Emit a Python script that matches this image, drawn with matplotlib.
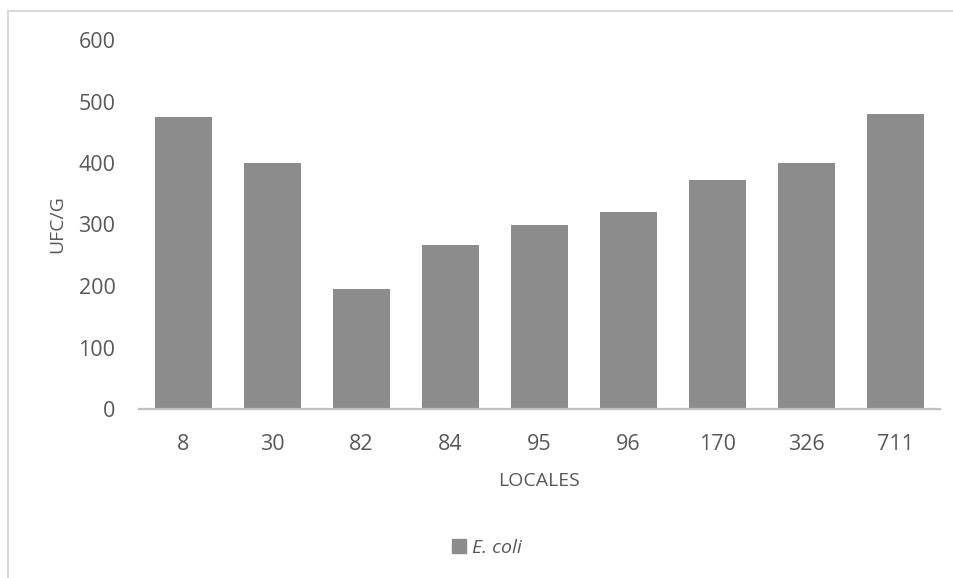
import matplotlib
matplotlib.use("Agg")
import matplotlib.pyplot as plt
from matplotlib.lines import Line2D
from matplotlib.patches import Patch

categories = ["8", "30", "82", "84", "95", "96", "170", "326", "711"]
values = [475, 400, 195, 267, 300, 320, 372, 400, 480]
series_name = "E. coli"
y_ticks = [0, 100, 200, 300, 400, 500, 600]

plt.rcParams['font.family'] = ['Open Sans', 'DejaVu Sans']
text_color = "#595959"
bar_color = "#8c8c8c"

W, H = 954, 578
fig = plt.figure(figsize=(W / 100, H / 100), dpi=100)
ax = fig.add_axes([139 / W, 1 - 409 / H, (940 - 139) / W, (409 - 40) / H])

x = list(range(len(categories)))
ax.bar(x, values, width=0.64, color=bar_color, zorder=2)
ax.set_xlim(-0.5, len(categories) - 0.5)
ax.set_ylim(0, 600)
ax.set_yticks(y_ticks)
ax.set_xticks(x)
ax.set_xticklabels(categories)

for s in ["top", "right", "left"]:
    ax.spines[s].set_visible(False)
ax.spines["bottom"].set_color("#bfbfbf")
ax.spines["bottom"].set_linewidth(1.6)
ax.tick_params(axis="both", length=0, labelsize=15.5, colors=text_color)
ax.tick_params(axis="y", pad=17)
ax.tick_params(axis="x", pad=18)

ax.set_xlabel("LOCALES", fontsize=14, color=text_color, labelpad=12)
ax.set_ylabel("UFC/G", fontsize=14, color=text_color, labelpad=9)

# chart frame (left and top edges visible)
fig.add_artist(Line2D([8 / W, 8 / W], [0, 1 - 11 / H], transform=fig.transFigure,
                      color="#d9d9d9", lw=1.5))
fig.add_artist(Line2D([8 / W, 1], [1 - 11 / H, 1 - 11 / H], transform=fig.transFigure,
                      color="#d9d9d9", lw=1.5))

leg = fig.legend(handles=[Patch(color=bar_color, label=series_name)],
                 loc="center", bbox_to_anchor=(487 / W, 1 - 548 / H),
                 frameon=False, handlelength=0.75, handleheight=0.75,
                 handletextpad=0.3, prop={"size": 14, "style": "italic"})
for t in leg.get_texts():
    t.set_color(text_color)

fig.savefig("out.png", dpi=100, facecolor="white")
